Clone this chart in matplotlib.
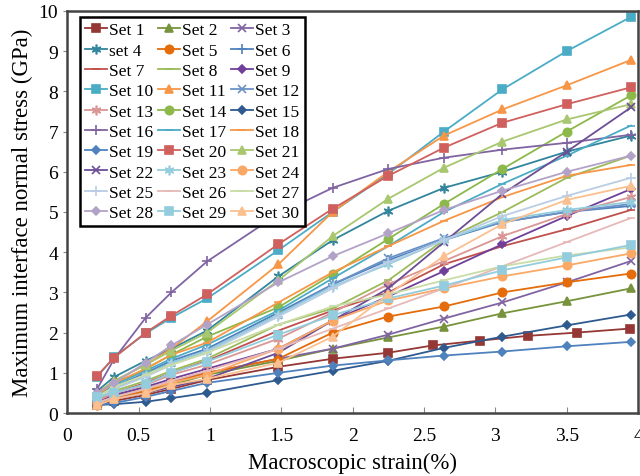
import matplotlib
matplotlib.use("Agg")
import matplotlib.pyplot as plt

# strain positions (%) shared by most sets
strain = [0.21, 0.33, 0.55, 0.73, 0.98, 1.48, 1.86, 2.25, 2.64, 3.05, 3.5, 3.95]
# set 1 was sampled more often at the end
strain_set1 = [0.21, 0.33, 0.55, 0.73, 0.98, 1.48, 1.86, 2.25, 2.56, 2.89, 3.23, 3.57, 3.94]

labels = ["Set %d" % i for i in range(1, 31)]
labels[3] = "set 4"

# max interface normal stress (GPa)
stress = [
    [0.2, 0.3, 0.45, 0.6, 0.82, 1.15, 1.35, 1.5, 1.68, 1.8, 1.92, 2.0, 2.1],
    [0.25, 0.4, 0.55, 0.7, 0.95, 1.3, 1.6, 1.88, 2.15, 2.48, 2.78, 3.1],
    [0.3, 0.45, 0.6, 0.8, 1.0, 1.35, 1.6, 1.95, 2.35, 2.75, 3.25, 3.78],
    [0.55, 0.9, 1.3, 1.6, 2.05, 3.4, 4.3, 5.03, 5.6, 6.0, 6.5, 6.9],
    [0.2, 0.35, 0.55, 0.75, 1.0, 1.35, 2.0, 2.4, 2.65, 3.0, 3.25, 3.47],
    [0.4, 0.65, 1.0, 1.3, 1.6, 2.5, 3.2, 3.8, 4.3, 4.75, 5.0, 5.15],
    [0.3, 0.5, 0.75, 1.0, 1.3, 2.05, 2.55, 3.0, 3.7, 4.15, 4.57, 5.05],
    [0.35, 0.55, 0.8, 1.05, 1.35, 2.2, 2.6, 3.3, 4.3, 5.0, 5.85, 6.4],
    [0.3, 0.45, 0.65, 0.85, 1.1, 1.6, 2.3, 2.9, 3.53, 4.2, 4.9, 5.57],
    [0.9, 1.4, 1.98, 2.37, 2.85, 4.05, 5.0, 5.95, 7.0, 8.05, 9.0, 9.85],
    [0.5, 0.8, 1.2, 1.6, 2.28, 3.7, 5.0, 6.0, 6.9, 7.55, 8.15, 8.78],
    [0.35, 0.6, 0.95, 1.25, 1.55, 2.45, 3.2, 3.85, 4.35, 4.75, 5.0, 5.2],
    [0.3, 0.5, 0.7, 0.95, 1.2, 1.85, 2.5, 3.2, 3.78, 4.4, 4.95, 5.37],
    [0.45, 0.7, 1.1, 1.45, 1.9, 2.63, 3.45, 4.33, 5.2, 6.07, 7.0, 7.9],
    [0.2, 0.22, 0.28, 0.37, 0.5, 0.82, 1.05, 1.3, 1.62, 1.9, 2.18, 2.45],
    [0.6, 1.35, 2.37, 3.0, 3.77, 4.95, 5.6, 6.07, 6.35, 6.55, 6.72, 6.92],
    [0.4, 0.7, 1.05, 1.35, 1.7, 2.55, 3.35, 4.15, 5.0, 5.7, 6.4, 7.15],
    [0.45, 0.75, 1.1, 1.45, 1.75, 2.75, 3.5, 4.15, 4.78, 5.37, 5.9, 6.17],
    [0.2, 0.25, 0.4, 0.55, 0.75, 1.0, 1.18, 1.31, 1.43, 1.53, 1.66, 1.77],
    [0.93, 1.38, 2.0, 2.42, 2.95, 4.2, 5.08, 5.9, 6.6, 7.22, 7.68, 8.1],
    [0.5, 0.8, 1.2, 1.55, 2.0, 3.3, 4.4, 5.33, 6.1, 6.75, 7.3, 7.68],
    [0.25, 0.35, 0.5, 0.65, 0.85, 1.5, 2.3, 3.1, 4.25, 5.45, 6.5, 7.6],
    [0.4, 0.65, 0.95, 1.25, 1.55, 2.45, 3.15, 3.7, 4.3, 4.8, 5.05, 5.25],
    [0.25, 0.4, 0.6, 0.75, 0.95, 1.6, 2.3, 2.8, 3.1, 3.4, 3.67, 3.97],
    [0.35, 0.6, 0.9, 1.2, 1.5, 2.4, 3.1, 3.75, 4.3, 4.9, 5.4, 5.85],
    [0.25, 0.4, 0.6, 0.8, 1.05, 1.6, 2.1, 2.6, 3.1, 3.65, 4.25, 4.85],
    [0.4, 0.65, 0.95, 1.2, 1.5, 2.2, 2.65, 2.95, 3.3, 3.65, 3.92, 4.12],
    [0.5, 0.75, 1.25, 1.68, 2.2, 3.25, 3.9, 4.47, 5.05, 5.53, 6.0, 6.4],
    [0.4, 0.5, 0.72, 1.0, 1.28, 1.95, 2.43, 2.85, 3.17, 3.55, 3.87, 4.18],
    [0.2, 0.35, 0.5, 0.7, 0.85, 1.25, 1.9, 2.95, 3.9, 4.7, 5.3, 5.65],
]

# excel-ish look: colour + marker per set
colors = ["#953735", "#77933C", "#8064A2", "#31859C", "#E46C0A", "#4F81BD",
          "#C0504D", "#9BBB59", "#6F3F9A", "#4BACC6", "#F79646", "#6A92C8",
          "#D99694", "#8DB84A", "#2F5A8F", "#8064A2", "#4BACC6", "#F79646",
          "#4F81BD", "#D0605E", "#A8C76E", "#6C4E94", "#93CDDD", "#FAA865",
          "#B9CDE5", "#E6B9B8", "#C9DCA6", "#B3A2C7", "#93CDDD", "#FAC090"]
star = (6, 2, 0)
markers = ["s", "^", "x", star, "o", "+", "_", "_", "D",
           "s", "^", "x", star, "o", "D", "+", "_", "_",
           "D", "s", "^", "x", star, "o", "+", "_", "_",
           "D", "s", "^"]
msizes = {"s": 6, "^": 6, "x": 6, "o": 6, "+": 7, "_": 6, "D": 4.5, star: 7}

plt.rcParams["font.family"] = ["Liberation Serif", "DejaVu Serif"]

fig = plt.figure(figsize=(6.4, 4.77), dpi=100)
ax = fig.add_axes([0.105, 0.132, 0.892, 0.843])

lines = []
for i in range(30):
    xs = strain_set1 if i == 0 else strain
    m = markers[i]
    ln, = ax.plot(xs, stress[i], color=colors[i], marker=m, markersize=msizes[m],
                  markeredgewidth=1.2, linewidth=1.3, label=labels[i])
    lines.append(ln)

ax.set_xlim(0, 4)
ax.set_ylim(0, 10)
ax.set_xticks([0, 0.5, 1, 1.5, 2, 2.5, 3, 3.5, 4])
ax.set_xticklabels(["0", "0.5", "1", "1.5", "2", "2.5", "3", "3.5", "4"])
ax.set_yticks(range(0, 11))
ax.tick_params(axis="x", direction="in", length=4, color="#888888", labelsize=14, pad=10)
ax.tick_params(axis="y", direction="out", length=3, color="#888888", labelsize=14)
for s in ax.spines.values():
    s.set_color("#444444")
    s.set_linewidth(1.8)

ax.set_xlabel("Macroscopic strain(%)", fontsize=16.5, labelpad=6)
ax.set_ylabel("Maximum interface normal stress (GPa)", fontsize=16.5, labelpad=4)

# legend is filled row by row (Set 1, Set 2, Set 3 on the first row)
order = [i for c in range(3) for i in range(c, 30, 3)]
leg = ax.legend([lines[i] for i in order], [labels[i] for i in order],
                loc="upper left", bbox_to_anchor=(0.022, 0.985), borderaxespad=0,
                ncol=3, fontsize=12.5, frameon=True, fancybox=False,
                handlelength=1.25, handletextpad=0.12, columnspacing=0.3,
                labelspacing=0.24, borderpad=0.3)
leg.get_frame().set_edgecolor("black")
leg.get_frame().set_linewidth(1.8)
leg.get_frame().set_alpha(1)

fig.savefig("out.png", dpi=100)
